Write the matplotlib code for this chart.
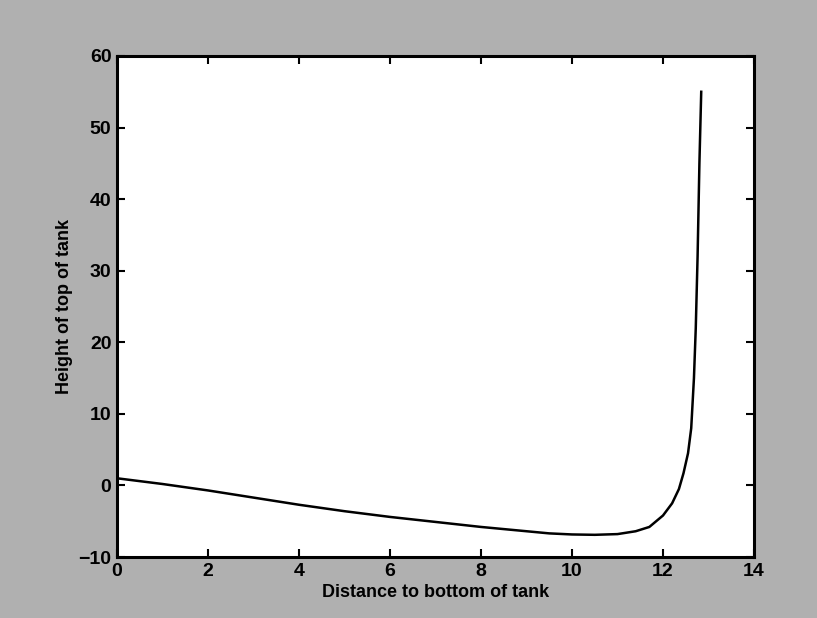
import matplotlib
matplotlib.use('Agg')
import matplotlib.pyplot as plt

# curve
dist = [0, 1, 2, 3, 4, 5, 6, 7, 8, 9, 9.5, 10, 10.5, 11, 11.4, 11.7,
        12.0, 12.2, 12.35, 12.45, 12.55, 12.62, 12.68, 12.72, 12.76, 12.8, 12.84]
height = [1.0, 0.2, -0.7, -1.7, -2.7, -3.6, -4.4, -5.1, -5.8, -6.4, -6.7, -6.85,
          -6.9, -6.8, -6.4, -5.8, -4.2, -2.5, -0.5, 1.7, 4.5, 8, 15, 22, 32, 45, 55]

xticks = [0, 2, 4, 6, 8, 10, 12, 14]
yticks = [-10, 0, 10, 20, 30, 40, 50, 60]

plt.rcParams['font.family'] = ['Liberation Sans', 'DejaVu Sans']

fig = plt.figure(figsize=(8.17, 6.18), dpi=100, facecolor='#b0b0b0')
ax = fig.add_axes([0.1432, 0.0987, 0.7797, 0.8107])
ax.set_facecolor('white')

ax.plot(dist, height, color='black', lw=1.8)

ax.set_xlim(0, 14)
ax.set_ylim(-10, 60)
ax.set_xticks(xticks)
ax.set_yticks(yticks)
ax.tick_params(direction='in', top=True, right=True, length=6, width=1.5,
               labelsize=14, pad=4)
for lab in ax.get_xticklabels() + ax.get_yticklabels():
    lab.set_fontweight('bold')
for s in ax.spines.values():
    s.set_linewidth(2.2)

ax.set_xlabel('Distance to bottom of tank', fontsize=13, fontweight='bold', labelpad=3)
ax.set_ylabel('Height of top of tank', fontsize=13, fontweight='bold', labelpad=4)

fig.savefig('out.png', dpi=100, facecolor=fig.get_facecolor())
